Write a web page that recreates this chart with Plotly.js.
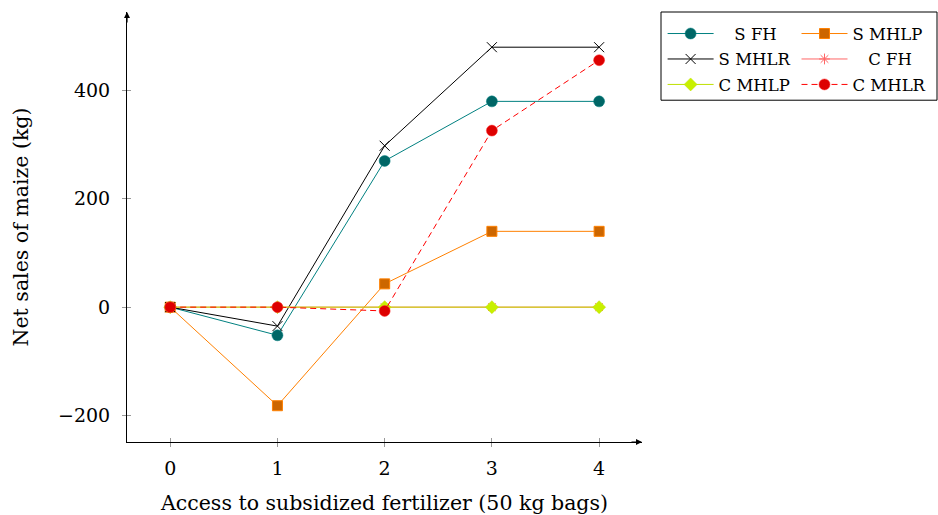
<!DOCTYPE html>
<html>
<head>
<meta charset="utf-8">
<script src="https://cdn.plot.ly/plotly-3.0.1.min.js"></script>
<style>html,body{margin:0;padding:0;background:#fff;}#chart{width:938px;height:515px;}</style>
</head>
<body>
<div id="chart"></div>
<script>
// ---- data ----
var bags = [0, 1, 2, 3, 4];
var sFH   = [0, -52, 270, 380, 380];
var sMHLP = [0, -182, 43, 140, 140];
var sMHLR = [0, -35, 298, 480, 480];
var cFH   = [0, 0, 0, 0, 0];
var cMHLP = [0, 0, 0, 0, 0];
var cMHLR = [0, 0, -7, 326, 456];
var seriesNames = ['S FH', 'S MHLP', 'S MHLR', 'C FH', 'C MHLP', 'C MHLR'];
var yTicks = [-200, 0, 200, 400];
var xTitle = 'Access to subsidized fertilizer (50 kg bags)';
var yTitle = 'Net sales of maize (kg)';

var FONT = 'DejaVu Serif, Liberation Serif, serif';
var NB = '\u00a0';
function pad(name, n) { var p = ''; for (var i = 0; i < n; i++) p += NB; return p + name; }

function tr(y, name, legend, line, marker, padN) {
  return {
    x: bags, y: y, name: pad(name, padN || 0), type: 'scatter', mode: 'lines+markers',
    legend: legend, legendgroup: name,
    line: line, marker: marker
  };
}

var traces = [
  tr(sFH, seriesNames[0], 'legend', {color: '#008080', width: 1},
     {symbol: 'circle', size: 11, color: '#006666', line: {color: '#008080', width: 0.5}}, 3),
  tr(sMHLP, seriesNames[1], 'legend2', {color: '#ff8000', width: 1},
     {symbol: 'square', size: 10, color: '#cc6600', line: {color: '#ff8000', width: 1}}),
  tr(sMHLR, seriesNames[2], 'legend', {color: '#000000', width: 1},
     {symbol: 'x-thin', size: 10, color: '#000000', line: {color: '#000000', width: 1}}),
  tr(cFH, seriesNames[3], 'legend2', {color: '#ff6666', width: 1},
     {symbol: 'asterisk', size: 9, color: '#ff6666', line: {color: '#ff6666', width: 1}}, 3),
  tr(cMHLP, seriesNames[4], 'legend', {color: '#bfe000', width: 1},
     {symbol: 'diamond', size: 10, color: '#c8f000', line: {color: '#bfe000', width: 0.5}}),
  tr(cMHLR, seriesNames[5], 'legend2', {color: '#ff0000', width: 1, dash: '6px,4px'},
     {symbol: 'circle', size: 11, color: '#dd0000', line: {color: '#ff3333', width: 0.5}})
];

// invisible overlay trace carrying the inner half of the crossing ticks
traces.push({x: bags, y: [0,0,0,0,0], xaxis: 'x2', yaxis: 'y2', mode: 'none', showlegend: false, hoverinfo: 'skip'});

var XR = [-0.403, 4.40], YR = [-249, 545];
var tickFont = {family: FONT, size: 19, color: '#000'};
var titleFont = {family: FONT, size: 20.5, color: '#000'};
var legFont = {family: FONT, size: 16.5, color: '#000'};

var layout = {
  width: 938, height: 515,
  margin: {l: 127, r: 296, t: 12, b: 73, autoexpand: false},
  paper_bgcolor: '#fff', plot_bgcolor: '#fff',
  font: {family: FONT, color: '#000'},
  xaxis: {
    range: XR, tickvals: bags, ticktext: bags.map(String),
    showgrid: false, zeroline: false, showline: true, linecolor: '#000', linewidth: 1,
    ticks: 'outside', ticklen: 4, tickcolor: '#999', tickwidth: 1,
    tickfont: tickFont, ticklabelstandoff: 5,
    title: {text: xTitle, font: titleFont, standoff: 17},
    automargin: false
  },
  yaxis: {
    range: YR, tickvals: yTicks,
    showgrid: false, zeroline: false, showline: true, linecolor: '#000', linewidth: 1,
    ticks: 'outside', ticklen: 4, tickcolor: '#999', tickwidth: 1,
    tickfont: tickFont, ticklabelstandoff: 8,
    title: {text: yTitle, font: titleFont, standoff: 23},
    automargin: false
  },
  xaxis2: {overlaying: 'x', range: XR, tickvals: bags, showticklabels: false, ticks: 'inside', ticklen: 4,
           tickcolor: '#999', showgrid: false, zeroline: false, showline: false},
  yaxis2: {overlaying: 'y', range: YR, tickvals: yTicks, showticklabels: false, ticks: 'inside', ticklen: 4,
           tickcolor: '#999', showgrid: false, zeroline: false, showline: false, anchor: 'x2'},
  legend: {x: 1.04, y: 0.99, xanchor: 'left', yanchor: 'top', font: legFont, bgcolor: 'rgba(0,0,0,0)',
           borderwidth: 0, itemwidth: 46, tracegroupgap: 1, traceorder: 'grouped', itemclick: false},
  legend2: {x: 1.30, y: 0.99, xanchor: 'left', yanchor: 'top', font: legFont, bgcolor: 'rgba(0,0,0,0)',
            borderwidth: 0, itemwidth: 46, tracegroupgap: 1, traceorder: 'grouped', itemclick: false},
  shapes: [{type: 'rect', xref: 'paper', yref: 'paper',
            x0: (661 - 127) / 515, x1: (937 - 127) / 515, y0: (441 - 100) / 429, y1: (441 - 12) / 429,
            line: {color: '#000', width: 1}, fillcolor: 'rgba(0,0,0,0)'}],
  annotations: [
    {xref: 'paper', yref: 'paper', x: 1, y: 0, ax: -12, ay: 0, axref: 'pixel', ayref: 'pixel', text: '',
     showarrow: true, arrowhead: 2, arrowsize: 1, arrowwidth: 1.2, arrowcolor: '#000'},
    {xref: 'paper', yref: 'paper', x: 0, y: 1, ax: 0, ay: 12, axref: 'pixel', ayref: 'pixel', text: '',
     showarrow: true, arrowhead: 2, arrowsize: 1, arrowwidth: 1.2, arrowcolor: '#000'}
  ],
  showlegend: true
};

Plotly.newPlot('chart', traces, layout, {displayModeBar: false, staticPlot: true});
</script>
</body>
</html>
